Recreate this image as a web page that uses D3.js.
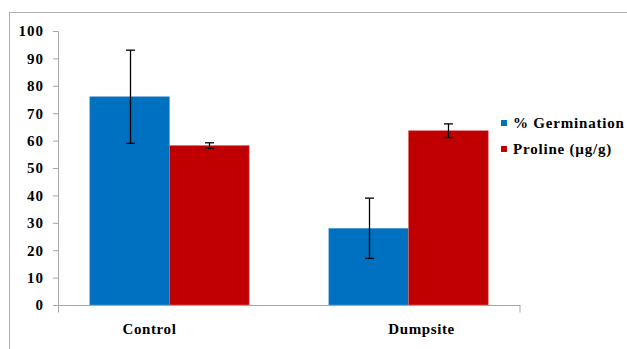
<!DOCTYPE html>
<html>
<head>
<meta charset="utf-8">
<script src="https://cdn.jsdelivr.net/npm/d3@7"></script>
<style>
  body { margin: 0; background: #fff; }
</style>
</head>
<body>
<div id="chart"></div>
<script>
const categories = ["Control", "Dumpsite"];
const seriesNames = ["% Germination", "Proline (µg/g)"];
const germination = [76, 28];
const germinationErr = [17, 11];
const proline = [58.2, 63.6];
const prolineErr = [1, 2.5];
const yTicks = [0, 10, 20, 30, 40, 50, 60, 70, 80, 90, 100];
const colors = ["#0070C0", "#C00000"];

const FONT = "Liberation Serif";
const width = 627, height = 349;
const margin = { left: 58, right: 107, top: 31, bottom: 44 };
// category labels sit a little off the bar group centres in the source
const labelShift = [-20, 13];

const svg = d3.select("#chart").append("svg")
  .attr("width", width)
  .attr("height", height);

// outer frame (runs off the right / bottom edge like the source)
svg.append("rect")
  .attr("x", 9.5).attr("y", 12.5)
  .attr("width", 640).attr("height", 360)
  .attr("fill", "none").attr("stroke", "#b0b0b0").attr("stroke-width", 1);

const x = d3.scaleBand()
  .domain(categories)
  .range([margin.left, width - margin.right])
  .paddingInner(1 / 3)
  .paddingOuter(0.133);

const xs = d3.scaleBand()
  .domain(seriesNames)
  .range([0, x.bandwidth()]);

const y = d3.scaleLinear()
  .domain([0, 100])
  .range([height - margin.bottom, margin.top]);

// y axis
const yAxis = svg.append("g")
  .attr("transform", `translate(${margin.left},0)`)
  .call(d3.axisLeft(y).tickValues(yTicks).tickSize(5).tickSizeOuter(5).tickPadding(9));
yAxis.attr("font-family", null).attr("font-size", null);
yAxis.selectAll("text")
  .attr("font-family", FONT).attr("font-size", 15).attr("font-weight", "bold")
  .attr("letter-spacing", 1);
yAxis.select(".domain").attr("stroke", "#a6a6a6");
yAxis.selectAll(".tick line").attr("stroke", "#a6a6a6");

const series = [
  { name: seriesNames[0], values: germination, err: germinationErr, color: colors[0], edge: "#5b9bd5" },
  { name: seriesNames[1], values: proline, err: prolineErr, color: colors[1], edge: "#e06666" }
];

series.forEach(s => {
  const g = svg.append("g");
  g.selectAll("rect")
    .data(categories)
    .join("rect")
    .attr("x", (c) => x(c) + xs(s.name))
    .attr("y", (c, i) => y(s.values[i]))
    .attr("width", xs.bandwidth())
    .attr("height", (c, i) => y(0) - y(s.values[i]))
    .attr("fill", s.color)
    .attr("stroke", s.edge)
    .attr("stroke-width", 0.6);
});

// error bars
series.forEach(s => {
  const g = svg.append("g").attr("stroke", "#000").attr("stroke-width", 1.3);
  categories.forEach((c, i) => {
    const cx = Math.round(x(c) + xs(s.name) + xs.bandwidth() / 2) + 0.5;
    const hi = y(s.values[i] + s.err[i]);
    const lo = y(s.values[i] - s.err[i]);
    g.append("line").attr("x1", cx).attr("x2", cx).attr("y1", hi).attr("y2", lo);
    g.append("line").attr("x1", cx - 4.5).attr("x2", cx + 4.5).attr("y1", hi).attr("y2", hi);
    g.append("line").attr("x1", cx - 4.5).attr("x2", cx + 4.5).attr("y1", lo).attr("y2", lo);
  });
});

// x axis
const x0 = y(0) + 0.5;
const xAxis = svg.append("g").attr("stroke", "#a6a6a6");
xAxis.append("line").attr("x1", margin.left).attr("x2", width - margin.right + 0.5).attr("y1", x0).attr("y2", x0);
[margin.left + 0.5, width - margin.right].forEach(px => {
  xAxis.append("line").attr("x1", px).attr("x2", px).attr("y1", x0).attr("y2", x0 + 7);
});

svg.append("g")
  .selectAll("text")
  .data(categories)
  .join("text")
  .attr("font-family", FONT).attr("font-size", 15).attr("font-weight", "bold")
  .attr("x", (c, i) => x(c) + x.bandwidth() / 2 + labelShift[i])
  .attr("y", 334)
  .attr("text-anchor", "middle")
  .attr("letter-spacing", 0.6)
  .text(c => c);

// legend
const legend = svg.append("g").attr("transform", "translate(501,120)");
seriesNames.forEach((name, i) => {
  const row = legend.append("g").attr("transform", `translate(0,${i * 26})`);
  row.append("rect").attr("width", 6).attr("height", 6).attr("fill", colors[i]);
  row.append("text")
    .attr("font-family", FONT).attr("font-size", 15).attr("font-weight", "bold")
    .attr("x", 12).attr("y", 8).attr("letter-spacing", 0.8).text(name);
});
</script>
</body>
</html>
